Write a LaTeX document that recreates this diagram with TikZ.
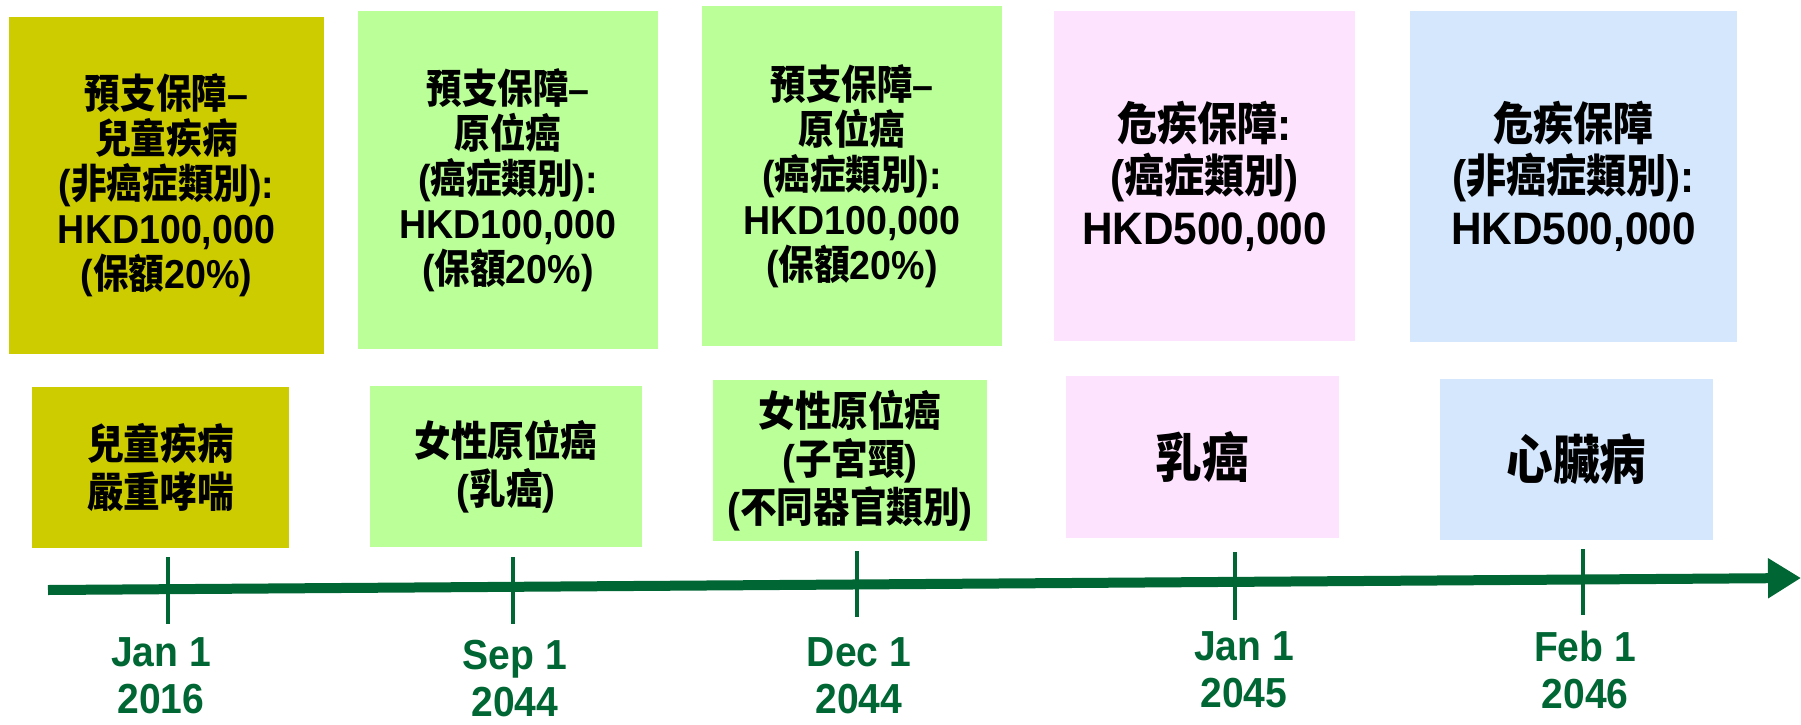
\documentclass[tikz,border=0pt]{standalone}
\usepackage{fontspec}
\setmainfont{Liberation Sans}[FakeStretch=0.93]
\newfontfamily\cjk{Noto Sans CJK TC}[FakeStretch=0.88]
\newcommand\zh[1]{{\cjk #1}}
\usetikzlibrary{arrows.meta}
\definecolor{cOlive}{HTML}{CCCC00}
\definecolor{cGreen}{HTML}{BBFF99}
\definecolor{cPink}{HTML}{FDE3FE}
\definecolor{cBlue}{HTML}{D5E7FC}
\definecolor{cDark}{HTML}{006633}
\tikzset{
  box/.style={inner sep=0pt, align=center, font=\bfseries\fontsize{20.2}{22.5}\selectfont},
  bigbox/.style={box, font=\bfseries\fontsize{22.75}{26}\selectfont},
  lowbox/.style={box, font=\bfseries\fontsize{20.8}{24}\selectfont},
  hugebox/.style={box, font=\bfseries\fontsize{26.5}{30}\selectfont},
  datelabel/.style={inner sep=0pt, align=center, text=cDark, font=\bfseries\fontsize{21}{23.5}\selectfont},
  tick/.style={draw=cDark, line width=1.75pt},
  axis/.style={draw=cDark, line width=5pt, -{Triangle[length=16.5pt, width=19pt]}}
}
\begin{document}
\begin{tikzpicture}[x=0.5pt, y=-0.5pt]
\useasboundingbox (0,0) rectangle (1801,724);
% top boxes
\node[box, fill=cOlive, minimum width=157.5pt, minimum height=168.5pt] (t1) at (166.5,185.5)
  {\zh{預支保障}–\\ \zh{兒童疾病}\\ (\zh{非癌症類別}):\\ HKD100,000\\ (\zh{保額}20\%)};
\node[box, fill=cGreen, minimum width=150pt, minimum height=169pt] (t2) at (508,180)
  {\zh{預支保障}–\\ \zh{原位癌}\\ (\zh{癌症類別}):\\ HKD100,000\\ (\zh{保額}20\%)};
\node[box, fill=cGreen, minimum width=150pt, minimum height=170pt] (t3) at (852,176)
  {\zh{預支保障}–\\ \zh{原位癌}\\ (\zh{癌症類別}):\\ HKD100,000\\ (\zh{保額}20\%)};
\node[bigbox, fill=cPink, minimum width=150.5pt, minimum height=165pt] (t4) at (1204.5,176)
  {\zh{危疾保障}:\\ (\zh{癌症類別})\\ HKD500,000};
\node[bigbox, fill=cBlue, minimum width=163.5pt, minimum height=165.5pt] (t5) at (1573.5,176.5)
  {\zh{危疾保障}\\ (\zh{非癌症類別}):\\ HKD500,000};
% bottom boxes
\node[lowbox, fill=cOlive, minimum width=128.5pt, minimum height=80.5pt] (b1) at (160.5,467.5)
  {\zh{兒童疾病}\\ \zh{嚴重哮喘}};
\node[lowbox, fill=cGreen, minimum width=136pt, minimum height=80.5pt] (b2) at (506,466.5)
  {\zh{女性原位癌}\\ (\zh{乳癌})};
\node[lowbox, fill=cGreen, minimum width=137pt, minimum height=80.5pt] (b3) at (850,460.5)
  {\zh{女性原位癌}\\ (\zh{子宮頸})\\ (\zh{不同器官類別})};
\node[hugebox, fill=cPink, minimum width=136.5pt, minimum height=81pt] (b4) at (1202.5,457)
  {\zh{乳癌}};
\node[hugebox, fill=cBlue, minimum width=136.5pt, minimum height=80.5pt] (b5) at (1576.5,459.5)
  {\zh{心臟病}};
% timeline
\coordinate (axS) at (48,590);
\coordinate (axE) at (1801,578);
\draw[axis] (axS) -- (axE);
% ticks
\coordinate (k1a) at (168,557);  \coordinate (k1b) at (168,624);
\coordinate (k2a) at (513,557);  \coordinate (k2b) at (513,624);
\coordinate (k3a) at (857,551);  \coordinate (k3b) at (857,617);
\coordinate (k4a) at (1235,552); \coordinate (k4b) at (1235,620);
\coordinate (k5a) at (1583,549); \coordinate (k5b) at (1583,615);
\draw[tick] (k1a) -- (k1b);
\draw[tick] (k2a) -- (k2b);
\draw[tick] (k3a) -- (k3b);
\draw[tick] (k4a) -- (k4b);
\draw[tick] (k5a) -- (k5b);
% dates
\node[datelabel] (d1) at (161,676) {Jan 1\\2016};
\node[datelabel] (d2) at (515,679) {Sep 1\\2044};
\node[datelabel] (d3) at (859,675.5) {Dec 1\\2044};
\node[datelabel] (d4) at (1244,670) {Jan 1\\2045};
\node[datelabel] (d5) at (1585,670) {Feb 1\\2046};
\end{tikzpicture}
\end{document}
